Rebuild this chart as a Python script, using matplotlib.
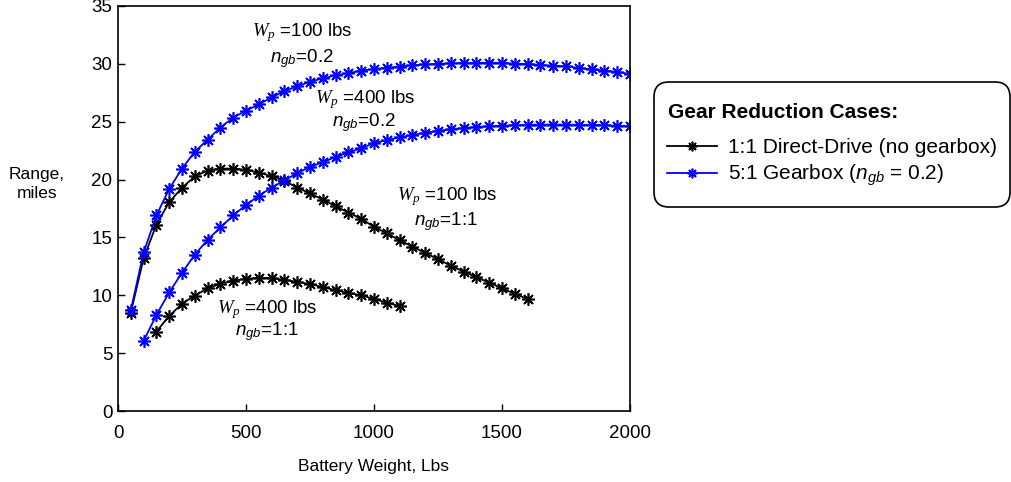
import matplotlib
matplotlib.use("Agg")
import matplotlib.pyplot as plt
from matplotlib.patches import FancyBboxPatch

# Range vs battery weight
x_b100 = list(range(50, 1650, 50))
y_b100 = [8.5, 13.2, 16.1, 18.05, 19.3, 20.27, 20.78, 20.95, 20.95, 20.85,
          20.6, 20.3, 19.9, 19.3, 18.8, 18.27, 17.7, 17.15, 16.6, 15.92,
          15.35, 14.77, 14.2, 13.65, 13.12, 12.55, 12.05, 11.56, 11.1, 10.6,
          10.12, 9.68]

x_b400 = list(range(150, 1150, 50))
y_b400 = [6.86, 8.22, 9.26, 9.97, 10.6, 10.99, 11.27, 11.42, 11.52, 11.47,
          11.33, 11.16, 10.97, 10.71, 10.44, 10.2, 10.0, 9.68, 9.36, 9.07]

x_g100 = list(range(50, 2050, 50))
y_g100 = [8.7, 13.7, 16.9, 19.2, 20.95, 22.4, 23.45, 24.5, 25.35, 25.95,
          26.5, 27.1, 27.65, 28.05, 28.45, 28.75, 29.0, 29.2, 29.42, 29.55,
          29.67, 29.77, 29.87, 29.95, 30.0, 30.05, 30.07, 30.08, 30.1, 30.08,
          30.02, 29.98, 29.9, 29.85, 29.78, 29.65, 29.52, 29.42, 29.3, 29.13]

x_g400 = list(range(100, 2050, 50))
y_g400 = [6.05, 8.3, 10.25, 11.95, 13.5, 14.8, 15.86, 16.9, 17.8, 18.6,
          19.3, 19.92, 20.56, 21.08, 21.5, 21.95, 22.35, 22.7, 23.15, 23.4,
          23.65, 23.85, 24.05, 24.2, 24.35, 24.45, 24.55, 24.6, 24.65, 24.7,
          24.72, 24.75, 24.75, 24.75, 24.73, 24.72, 24.7, 24.65, 24.6]

plt.rcParams['font.family'] = ['Liberation Sans', 'DejaVu Sans']
plt.rcParams['mathtext.fontset'] = 'custom'
plt.rcParams['mathtext.rm'] = 'Liberation Sans'
plt.rcParams['mathtext.it'] = 'Liberation Serif:italic'
plt.rcParams['mathtext.sf'] = 'Liberation Sans:italic'

fig = plt.figure(figsize=(10.12, 4.82), dpi=100)
ax = fig.add_axes([118 / 1012, 1 - 411 / 482, 512 / 1012, 405 / 482])

star = (8, 2, 0)
kw = dict(marker=star, markersize=9, markeredgewidth=1.2, linewidth=1.3)
l1, = ax.plot(x_b100, y_b100, color='black', **kw)
ax.plot(x_b400, y_b400, color='black', **kw)
l2, = ax.plot(x_g100, y_g100, color='blue', **kw)
ax.plot(x_g400, y_g400, color='blue', **kw)

ax.set_xlim(0, 2000)
ax.set_ylim(0, 35)
ax.set_xticks(range(0, 2001, 500))
ax.set_yticks(range(0, 36, 5))
ax.tick_params(direction='in', length=5, width=1, labelsize=13.5)
ax.tick_params(axis='y', pad=4)
ax.tick_params(axis='x', pad=10)
for s in ax.spines.values():
    s.set_linewidth(1.2)

fig.text(37 / 1012, 1 - 184 / 482, "Range,\nmiles", ha='center', va='center',
         fontsize=12.5, linespacing=1.25)
fig.text(374 / 1012, 1 - 467 / 482, "Battery Weight, Lbs", ha='center',
         va='center', fontsize=12.5)

# curve annotations
notes = [
    (720, 32.7, 720, 30.5, "100", "0.2"),
    (967, 26.9, 961, 24.9, "400", "0.2"),
    (1287, 18.5, 1281, 16.4, "100", "1:1"),
    (584, 8.8, 582, 6.9, "400", "1:1"),
]
for wx, wy, nx, ny, wp, ngb in notes:
    ax.text(wx, wy, r"$\mathit{W}_{\mathit{p}}$ =" + wp + " lbs", ha='center',
            va='center', fontsize=13.5)
    ax.text(nx, ny, r"$\mathsf{n}_{\mathsf{gb}}$=" + ngb, ha='center',
            va='center', fontsize=13.5)

# legend box drawn by hand (rounded, extra space at the bottom)
box = FancyBboxPatch((6.54, 4.82 - 2.07), 3.56, 1.25,
                     boxstyle='round,pad=0,rounding_size=0.15',
                     transform=fig.dpi_scale_trans, facecolor='white',
                     edgecolor='black', linewidth=1.2)
fig.patches.append(box)
fig.text(668 / 1012, 1 - 112 / 482, "Gear Reduction Cases:", ha='left',
         va='center', fontsize=15, fontweight='bold')

leg = fig.legend([l1, l2],
                 ["1:1 Direct-Drive (no gearbox)",
                  r"5:1 Gearbox ($\mathsf{n}_{\mathsf{gb}}$ = 0.2)"],
                 loc='upper left', bbox_to_anchor=(657 / 1012, 1 - 128 / 482),
                 fontsize=15, numpoints=1, handlelength=2.4,
                 handletextpad=0.5, borderpad=0, labelspacing=0.25,
                 frameon=False)
for h in leg.legend_handles:
    h.set_markersize(7)

fig.savefig("out.png", dpi=100)
